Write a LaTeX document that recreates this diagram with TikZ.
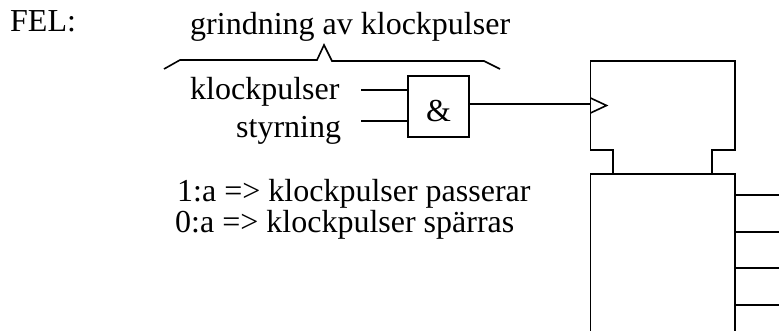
\documentclass[tikz,border=0pt]{standalone}
\usepackage{fontspec}
\setmainfont{Liberation Serif}
\tikzset{
lbl/.style={anchor=base west,inner sep=0pt,font=\fontsize{32}{32}\selectfont},
wire/.style={line width=1.6pt},
gate/.style={draw,line width=1.6pt,minimum size=61pt,inner sep=0pt,text height=30pt,text depth=0pt,font=\fontsize{32}{32}\selectfont},
}
\begin{document}
\begin{tikzpicture}[x=1pt,y=-1pt]
\useasboundingbox (0,0) rectangle (779,331);
\node[lbl] (fel) at (10,32) {FEL:};
\node[lbl] (rubrik) at (190,35) {grindning av klockpulser};
\node[lbl] (klock) at (190,100) {klockpulser};
\node[lbl] (styr) at (236,138) {styrning};
\node[lbl] (ett) at (177,202) {1:a => klockpulser passerar};
\node[lbl] (noll) at (175,233) {0:a => klockpulser spärras};
\node[gate] (och) at (438.5,106.5) {\&};
% klammer
\draw[wire] (164,69) -- (180,60) -- (317,60) -- (324,45) -- (332,61) -- (484,61) -- (500,69);
% ingangar
\coordinate (in1) at (361,90);
\coordinate (in2) at (361,121);
\draw[wire] (in1) -- (in1 -| och.west);
\draw[wire] (in2) -- (in2 -| och.west);
% vippa
\coordinate (klocka) at (590.5,104);
\draw[wire] (och.east |- klocka) -- (klocka);
\draw[wire] (590.5,98) -- (606.5,105.5) -- (590.5,113);
\draw[wire] (613,174) -- (613,150) -- (590.5,150) -- (590.5,61) -- (735,61) -- (735,150) -- (712,150) -- (712,174);
\draw[wire] (590.5,331) -- (590.5,174) -- (735,174) -- (735,331);
% utgangar
\foreach \y/\name in {195/a,232/b,268/c,305/d}{
\coordinate (ut\name) at (779,\y);
\draw[wire] (735,\y) -- (ut\name);
}
\end{tikzpicture}
\end{document}
